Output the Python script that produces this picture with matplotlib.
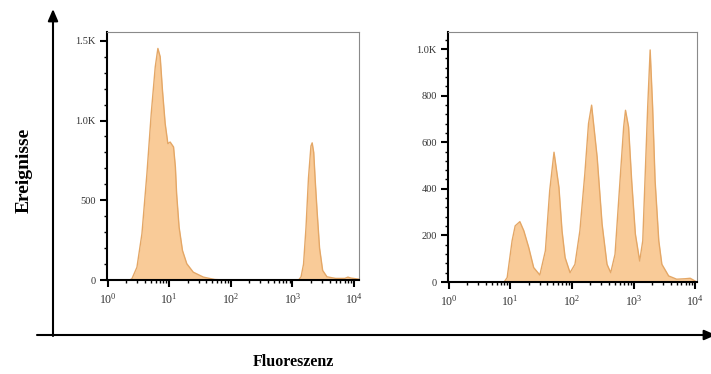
import matplotlib
matplotlib.use("Agg")
import matplotlib.pyplot as plt
import numpy as np
from matplotlib.ticker import MultipleLocator, LogLocator, NullFormatter

plt.rcParams['font.family'] = ['Liberation Serif', 'DejaVu Serif']
plt.rcParams['mathtext.fontset'] = 'custom'
plt.rcParams['mathtext.rm'] = 'Liberation Serif'
plt.rcParams['mathtext.it'] = 'Liberation Serif'

# ---- data (log10 fluorescence, event counts) ----
left_log = [0.0, 0.36, 0.395, 0.476, 0.557, 0.638, 0.708, 0.773, 0.816, 0.853, 0.89, 0.934,
            0.978, 1.015, 1.07, 1.10, 1.12, 1.16, 1.215, 1.285, 1.39, 1.555, 1.74, 1.9,
            3.10, 3.14, 3.18, 3.22, 3.26, 3.30, 3.32, 3.345, 3.37, 3.40, 3.44, 3.49, 3.56,
            3.7, 3.85, 3.9, 3.95, 4.08]
left_cnt = [0, 0, 8, 80, 290, 667, 1044, 1336, 1452, 1400, 1190, 981,
            855, 865, 834, 708, 541, 332, 185, 102, 49, 18, 3, 0,
            0, 20, 100, 330, 640, 840, 860, 800, 620, 430, 200, 60, 20,
            10, 10, 18, 12, 5]

right_log = [0.0, 0.90, 0.95, 1.03, 1.08, 1.156, 1.22, 1.30, 1.38, 1.48, 1.57, 1.64, 1.71,
             1.79, 1.84, 1.89, 1.97, 2.05, 2.13, 2.21, 2.27, 2.32, 2.41, 2.49, 2.57, 2.63,
             2.70, 2.77, 2.84, 2.87, 2.92, 2.97, 3.03, 3.10, 3.15, 3.19, 3.23, 3.27, 3.31,
             3.35, 3.41, 3.46, 3.57, 3.70, 3.84, 3.92, 4.0, 4.03]
right_cnt = [0, 0, 19, 177, 241, 259, 220, 148, 62, 30, 134, 392, 557,
             406, 220, 105, 40, 76, 220, 464, 680, 759, 536, 249, 76, 40,
             119, 392, 665, 737, 665, 435, 206, 90, 177, 464, 751, 996, 751,
             435, 177, 76, 26, 12, 14, 16, 4, 0]

left_yticks = [0, 500, 1000, 1500]
left_ylabels = ["0", "500", "1.0K", "1.5K"]
right_yticks = [0, 200, 400, 600, 800, 1000]
right_ylabels = ["0", "200", "400", "600", "800", "1.0K"]
xticks = [1, 10, 100, 1000, 10000]
xlabels = [r"$10^{0}$", r"$10^{1}$", r"$10^{2}$", r"$10^{3}$", r"$10^{4}$"]

fill_c = "#F9CB98"
edge_c = "#E4A766"

fig = plt.figure(figsize=(7.11, 3.74), dpi=100)

def panel(rect, lx, ly, yt, yl, ylim, xmax, minor):
    ax = fig.add_axes(rect)
    x = np.power(10.0, lx)
    ax.fill_between(x, ly, 0, color=fill_c, lw=0, zorder=1)
    ax.plot(x, ly, color=edge_c, lw=1.0, zorder=2)
    ax.set_xscale('log')
    ax.set_xlim(10 ** -0.01, 10 ** xmax)
    ax.set_ylim(*ylim)
    ax.set_xticks(xticks)
    ax.set_xticklabels(xlabels)
    ax.xaxis.set_minor_locator(LogLocator(base=10, subs=np.arange(2, 10)))
    ax.xaxis.set_minor_formatter(NullFormatter())
    ax.set_yticks(yt)
    ax.set_yticklabels(yl)
    ax.yaxis.set_minor_locator(MultipleLocator(minor))
    for s in ['top', 'right']:
        ax.spines[s].set_color('#8a8a8a')
        ax.spines[s].set_linewidth(0.8)
    for s in ['left', 'bottom']:
        ax.spines[s].set_color('black')
        ax.spines[s].set_linewidth(1.5)
    ax.tick_params(axis='both', which='major', direction='out', length=5, width=1.5,
                   labelsize=7.5, colors='black', labelcolor='#333333', pad=3)
    ax.tick_params(axis='both', which='minor', direction='out', length=2.5, width=1.0,
                   colors='black')
    ax.tick_params(axis='x', which='major', labelsize=8.5, pad=4)
    return ax

panel([107/711, 1-280/374, 252/711, 248/374], left_log, left_cnt,
      left_yticks, left_ylabels, (0, 1555), 4.08, 100)
panel([448/711, 1-282/374, 249/711, 250/374], right_log, right_cnt,
      right_yticks, right_ylabels, (0, 1073), 4.03, 40)

# big axis arrows
ov = fig.add_axes([0, 0, 1, 1], facecolor='none')
ov.set_xlim(0, 711)
ov.set_ylim(374, 0)
ov.axis('off')
ov.annotate('', xy=(53, 9), xytext=(53, 336),
            arrowprops=dict(arrowstyle='-|>,head_length=0.7,head_width=0.3', color='black', lw=1.5,
                            shrinkA=0, shrinkB=0))
ov.annotate('', xy=(716, 335), xytext=(37, 335),
            arrowprops=dict(arrowstyle='-|>,head_length=0.7,head_width=0.3', color='black', lw=1.5,
                            shrinkA=0, shrinkB=0), annotation_clip=False)

fig.text(24/711, 1-170/374, "Ereignisse", rotation=90, ha='center', va='center',
         fontsize=14, fontweight='bold')
fig.text(293/711, 1-362/374, "Fluoreszenz", ha='center', va='center',
         fontsize=11.5, fontweight='bold')

fig.savefig("out.png", dpi=100)
